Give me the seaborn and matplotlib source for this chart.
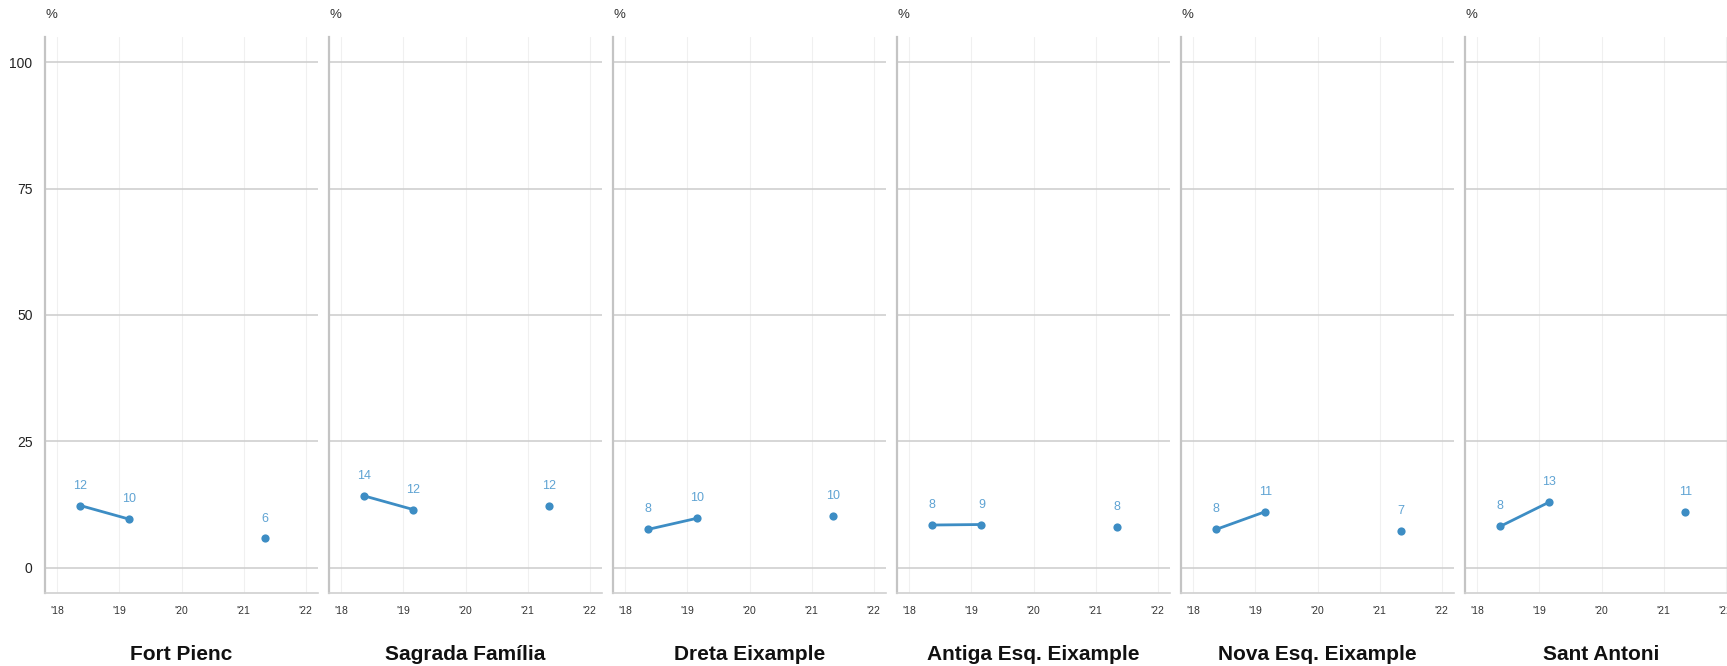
import pandas as pd
import numpy as np
import matplotlib
matplotlib.use('Agg')
import matplotlib.pyplot as plt
import seaborn as sns

###############################################################################
# Data
###############################################################################
districts = ['Fort Pienc', 'Sagrada Família', 'Dreta Eixample',
             'Antiga Esq. Eixample', 'Nova Esq. Eixample', 'Sant Antoni']

# survey dates (decimal years); the line only joins the first two waves
dates = [2018.37, 2019.16, 2021.35]
segment = [0, 0, 1]

fort_pienc = [12.3, 9.6, 5.8]
sagrada_familia = [14.2, 11.5, 12.2]
dreta_eixample = [7.6, 9.8, 10.2]
antiga_esq = [8.45, 8.55, 8.0]
nova_esq = [7.6, 11.1, 7.2]
sant_antoni = [8.2, 13.0, 11.1]

values = [fort_pienc, sagrada_familia, dreta_eixample,
          antiga_esq, nova_esq, sant_antoni]

year_ticks = [2018, 2019, 2020, 2021, 2022]
year_labels = ["'18", "'19", "'20", "'21", "'22"]
y_ticks = [0, 25, 50, 75, 100]

###############################################################################
# Styling
###############################################################################
sns.set_style('white')
plt.rcParams['font.family'] = ['Liberation Sans', 'DejaVu Sans']

line_col = '#3d8dc4'
label_col = '#5fa3d3'

fig = plt.figure(figsize=(17.27, 6.66), dpi=100)
W, H = 1727, 666

for i, name in enumerate(districts):
    left = 45 + 284 * i
    ax = fig.add_axes([left / W, (H - 593) / H, 273 / W, (593 - 37) / H])

    df = pd.DataFrame({'date': dates, 'value': values[i], 'seg': segment})

    sns.lineplot(data=df, x='date', y='value', units='seg', estimator=None,
                 color=line_col, linewidth=2, ax=ax)
    sns.scatterplot(data=df, x='date', y='value', color=line_col, s=35,
                    edgecolor=line_col, linewidth=0, ax=ax, zorder=3)

    # point labels, rounded half up
    for d, v in zip(dates, values[i]):
        ax.annotate(f'{int(np.floor(v + 0.5))}',
                    (d, v), xytext=(0, 10), textcoords='offset points',
                    ha='center', va='bottom', fontsize=9, color=label_col)

    ax.set_xlim(2017.8, 2022.2)
    ax.set_ylim(-5, 105)
    ax.set_xticks(year_ticks)
    ax.set_xticklabels(year_labels, fontsize=7.5, color='#333333')
    ax.set_yticks(y_ticks)
    if i == 0:
        ax.set_yticklabels([str(t) for t in y_ticks], fontsize=10,
                           color='#222222')
    else:
        ax.set_yticklabels([])
    ax.tick_params(axis='x', length=0, pad=9)
    ax.tick_params(axis='y', length=0, pad=9)

    ax.grid(axis='y', color='#cccccc', linewidth=1.1)
    ax.grid(axis='x', color='#f0f0f0', linewidth=0.8)
    ax.set_axisbelow(True)

    for s in ['top', 'right']:
        ax.spines[s].set_visible(False)
    ax.spines['left'].set_color('#c4c4c4')
    ax.spines['left'].set_linewidth(1.6)
    ax.spines['bottom'].set_color('#d0d0d0')
    ax.spines['bottom'].set_linewidth(1.2)

    ax.set_xlabel(name, fontsize=15, fontweight='bold', color='#111111',
                  labelpad=21)
    ax.set_ylabel('')
    ax.text(0.0, 1.04, '%', transform=ax.transAxes, fontsize=9.5,
            color='#333333', ha='left', va='center')

fig.savefig('out.png', dpi=100)
